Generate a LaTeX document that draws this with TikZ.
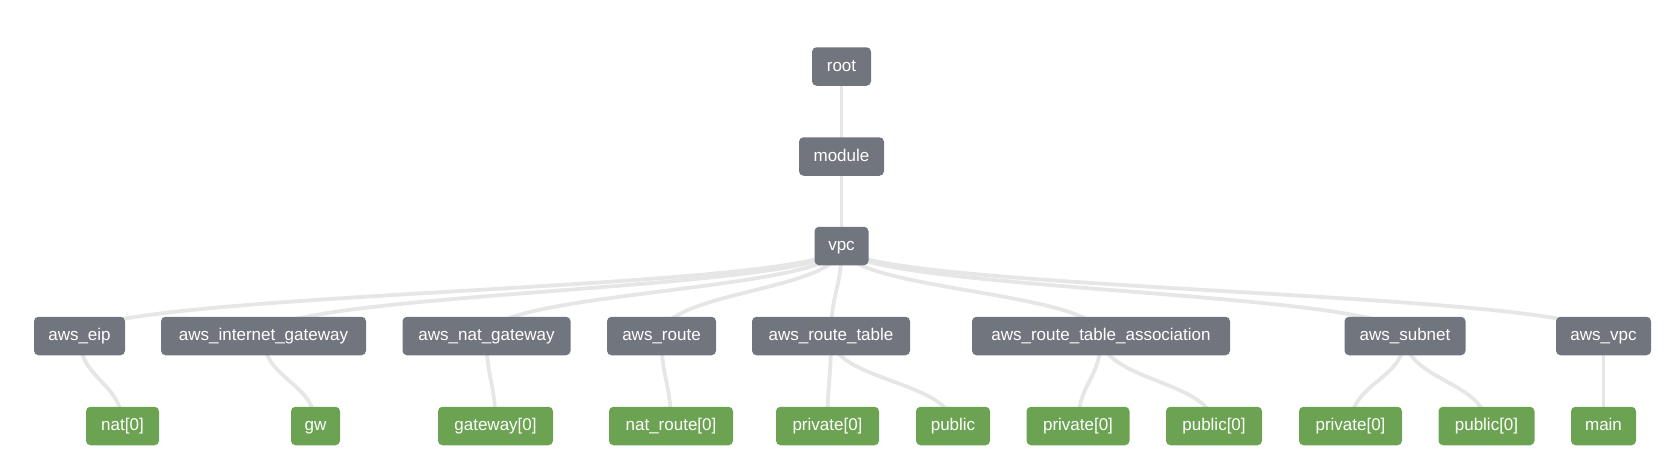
\documentclass[tikz,border=0pt]{standalone}
\usepackage{fontspec}
\setmainfont{Liberation Sans}
\usetikzlibrary{calc}
\definecolor{boxgray}{HTML}{71757E}
\definecolor{boxgreen}{HTML}{6BA352}
\definecolor{linkgray}{HTML}{E6E6E6}
\pgfdeclarelayer{bg}
\pgfsetlayers{bg,main}
\tikzset{
  base/.style={rounded corners=4.5pt, text=white, font=\fontsize{17}{20}\selectfont,
    minimum height=38.5pt, inner xsep=0pt, inner ysep=0pt, text height=12.5pt, text depth=3.5pt},
  grp/.style={base, fill=boxgray, minimum width=#1},
  leaf/.style={base, fill=boxgreen, minimum width=#1},
  link/.style={draw=linkgray, line width=3.8pt,
    to path={.. controls ($(\tikztostart)!0.5!(\tikztostart|-\tikztotarget)$) and ($(\tikztotarget)!0.5!(\tikztotarget|-\tikztostart)$) .. (\tikztotarget)}}
}
\begin{document}
\begin{tikzpicture}[x=1pt,y=-1pt]
\useasboundingbox (0,0) rectangle (1679,474);
% nodes
\node[grp=59pt] (root) at (841.5,66.5) {root};
\node[grp=85pt] (module) at (841.5,156.5) {module};
\node[grp=54pt] (vpc) at (841.5,246) {vpc};
\node[grp=91pt] (eip) at (79.5,336) {aws\_eip};
\node[grp=205pt] (igw) at (263.5,336) {aws\_internet\_gateway};
\node[grp=168pt] (natgw) at (486.5,336) {aws\_nat\_gateway};
\node[grp=109pt] (route) at (661.5,336) {aws\_route};
\node[grp=158pt] (rt) at (831,336) {aws\_route\_table};
\node[grp=258pt] (rta) at (1101,336) {aws\_route\_table\_association};
\node[grp=121pt] (subnet) at (1405,336) {aws\_subnet};
\node[grp=95pt] (awsvpc) at (1603.5,336) {aws\_vpc};
\node[leaf=73pt] (nat0) at (122.5,426) {nat[0]};
\node[leaf=49pt] (gw) at (315.5,426) {gw};
\node[leaf=115pt] (gateway0) at (495.5,426) {gateway[0]};
\node[leaf=124pt] (natroute) at (671,426) {nat\_route[0]};
\node[leaf=103pt] (rtpriv) at (827.5,426) {private[0]};
\node[leaf=74pt] (rtpub) at (953,426) {public};
\node[leaf=103pt] (rtapriv) at (1078,426) {private[0]};
\node[leaf=96pt] (rtapub) at (1214,426) {public[0]};
\node[leaf=103pt] (snpriv) at (1350.5,426) {private[0]};
\node[leaf=96pt] (snpub) at (1486.5,426) {public[0]};
\node[leaf=65pt] (main) at (1603.5,426) {main};
% links behind nodes
\begin{pgfonlayer}{bg}
\path[link] (root.center) to (module.center);
\path[link] (module.center) to (vpc.center);
\foreach \c in {eip,igw,natgw,route,rt,rta,subnet,awsvpc}
  \path[link] (vpc.center) to (\c.center);
\path[link] (eip.center) to (nat0.center);
\path[link] (igw.center) to (gw.center);
\path[link] (natgw.center) to (gateway0.center);
\path[link] (route.center) to (natroute.center);
\path[link] (rt.center) to (rtpriv.center);
\path[link] (rt.center) to (rtpub.center);
\path[link] (rta.center) to (rtapriv.center);
\path[link] (rta.center) to (rtapub.center);
\path[link] (subnet.center) to (snpriv.center);
\path[link] (subnet.center) to (snpub.center);
\path[link] (awsvpc.center) to (main.center);
\end{pgfonlayer}
\end{tikzpicture}
\end{document}
